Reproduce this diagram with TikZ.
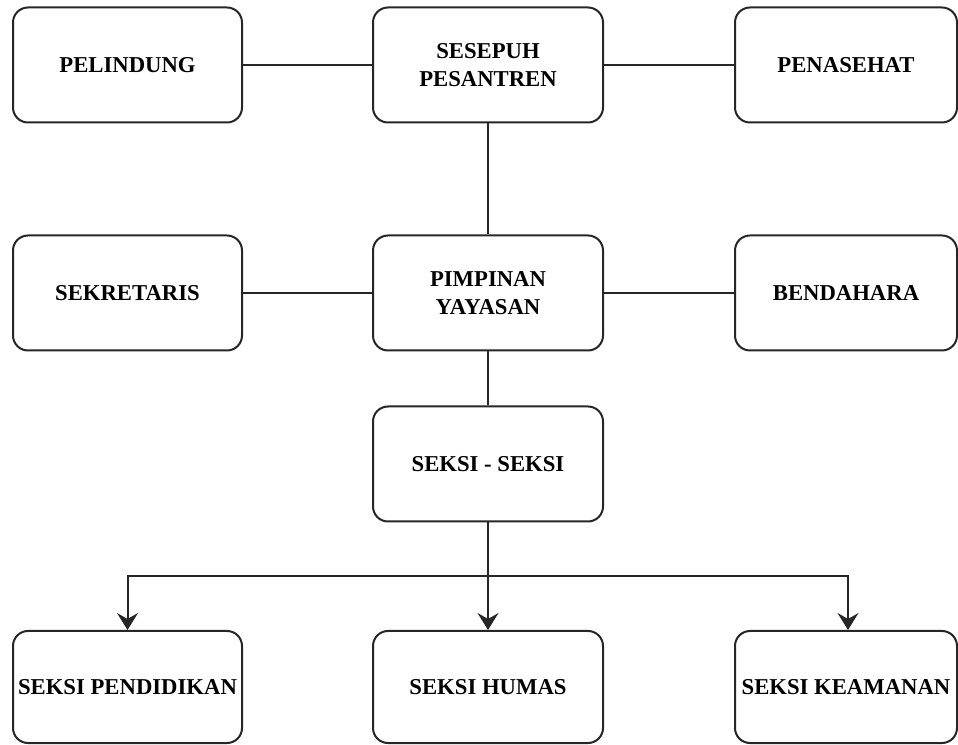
\documentclass[tikz,border=0pt]{standalone}
\usepackage{fontspec}
\setmainfont{Liberation Serif}
\usetikzlibrary{arrows.meta}
\begin{document}
\begin{tikzpicture}[x=1pt,y=1pt,
  box/.style={draw=black!85, line width=2pt, rounded corners=15pt, fill=white,
    minimum width=229pt, minimum height=115pt, inner sep=0pt, align=center,
    font=\fontsize{22.7}{28}\selectfont\bfseries},
  conn/.style={draw=black!85, line width=2pt},
  arr/.style={conn, -{Stealth[length=17pt,width=21pt,inset=6pt]}}]
\useasboundingbox (0,0) rectangle (958,744);
\node[box] (pel) at (127.5,679) {PELINDUNG};
\node[box, minimum width=230pt] (ses) at (488,679) {SESEPUH\\PESANTREN};
\node[box, minimum width=222pt] (pen) at (846,679) {PENASEHAT};
\node[box] (sek) at (127.5,451) {SEKRETARIS};
\node[box, minimum width=230pt] (pim) at (488,451) {PIMPINAN\\YAYASAN};
\node[box, minimum width=222pt] (ben) at (846,451) {BENDAHARA};
\node[box, minimum width=230pt] (sks) at (488,280) {SEKSI - SEKSI};
\node[box, minimum height=112pt] (pend) at (127.5,57) {SEKSI PENDIDIKAN};
\node[box, minimum width=230pt, minimum height=112pt] (hum) at (488,57) {SEKSI HUMAS};
\node[box, minimum width=222pt, minimum height=112pt] (kea) at (846,57) {SEKSI KEAMANAN};
\draw[conn] (pel) -- (ses);
\draw[conn] (ses) -- (pen);
\draw[conn] (sek) -- (pim);
\draw[conn] (pim) -- (ben);
\draw[conn] (ses) -- (pim);
\draw[conn] (pim) -- (sks);
\coordinate (br) at (488,168);
\draw[arr] (sks) -- (hum);
\draw[arr] (br) -| (pend.north);
\draw[arr] (br) -| ([xshift=2pt]kea.north);
\end{tikzpicture}
\end{document}
